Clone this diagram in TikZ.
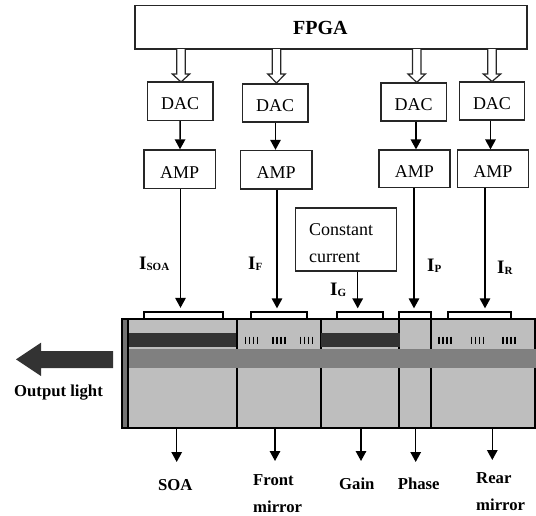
\documentclass[tikz,border=0pt]{standalone}
\usepackage{fontspec}
\setmainfont{Liberation Serif}
\usetikzlibrary{arrows.meta}
\newcommand{\Isub}[1]{I\raisebox{-1.2pt}{\fontsize{11}{11}\selectfont #1}}
\tikzset{
  x=1pt,y=-1pt,
  boxn/.style={draw=black!85,line width=1.3pt,inner sep=0pt,font=\fontsize{18}{18}\selectfont,text height=17.5pt,text depth=0pt},
  lab/.style={inner sep=0pt,anchor=base west,font=\bfseries\fontsize{16.7}{17}\selectfont},
  cur/.style={inner sep=0pt,anchor=base west,font=\bfseries\fontsize{19}{19}\selectfont},
  plain/.style={inner sep=0pt,anchor=base west,font=\fontsize{18}{18}\selectfont},
  arr/.style={draw=black,line width=1.5pt,-{Triangle[width=10.5pt,length=10pt]},shorten >=0pt},
  hollowarrow/.style={draw=black!85,line width=1.2pt,fill=white,line join=miter},
  sect/.style={draw=black,line width=2.2pt,fill=secgray,inner sep=0pt},
  pad/.style={draw=black,line width=1.8pt,fill=white,inner sep=0pt},
  tick/.style={draw=black,line width=1.5pt},
}
\definecolor{secgray}{gray}{0.745}
\definecolor{guide}{gray}{0.5}
\definecolor{active}{gray}{0.2}
\definecolor{facet}{gray}{0.45}
\newcommand{\grating}[1]{\foreach \k in {0,4,8,12}{\draw[tick] (#1+\k,336.5) -- (#1+\k,344);}}
\newcommand{\hollow}[2]{\draw[hollowarrow] (#1-4.2,49) -- (#1-4.2,74) -- (#1-8.7,74) -- (#1,#2) -- (#1+8.7,74) -- (#1+4.2,74) -- (#1+4.2,49);}
\begin{document}
\begin{tikzpicture}
\useasboundingbox (0,0) rectangle (536,515);
% top blocks
\node[draw=black!85,line width=1.3pt,minimum width=392pt,minimum height=43.5pt,inner sep=0pt] (fpga) at (331,27.2) {};
\node[inner sep=0pt,anchor=base west,font=\bfseries\fontsize{20}{20}\selectfont] (fpgat) at (293,34) {FPGA};
\node[boxn,minimum width=65.5pt,minimum height=38.5pt] (dac1) at (180.2,101.2) {DAC};
\node[boxn,minimum width=65.5pt,minimum height=38pt] (dac2) at (275.2,103) {DAC};
\node[boxn,minimum width=65.5pt,minimum height=38pt] (dac3) at (413.7,102) {DAC};
\node[boxn,minimum width=65.5pt,minimum height=38pt] (dac4) at (492,101) {DAC};
\node[boxn,minimum width=71.5pt,minimum height=38.7pt] (amp1) at (179.7,169.3) {AMP};
\node[boxn,minimum width=71.5pt,minimum height=38.5pt] (amp2) at (276.2,169.7) {AMP};
\node[boxn,minimum width=71pt,minimum height=37.7pt] (amp3) at (414.5,168.9) {AMP};
\node[boxn,minimum width=70.5pt,minimum height=37.7pt] (amp4) at (493,168.9) {AMP};
\node[draw=black!85,line width=1.3pt,minimum width=100.5pt,minimum height=63pt,inner sep=0pt] (const) at (346,239.5) {};
\node[plain] (constA) at (309,235.6) {Constant};
\node[plain] (constB) at (309,262) {current};
% hollow arrows
\hollow{181}{82}
\hollow{276.5}{83}
\hollow{416.7}{82.5}
\hollow{492}{81.5}
% device
\node[draw=black,line width=2.2pt,fill=facet,minimum width=12pt,minimum height=109pt,inner sep=0pt] (facetn) at (128,373.5) {};
\node[sect,minimum width=109pt,minimum height=109pt] (soa) at (182.5,373.5) {};
\node[sect,minimum width=84pt,minimum height=109pt] (front) at (279,373.5) {};
\node[sect,minimum width=78pt,minimum height=109pt] (gain) at (360,373.5) {};
\node[sect,minimum width=32pt,minimum height=109pt] (phase) at (415,373.5) {};
\node[sect,minimum width=104pt,minimum height=109pt] (rear) at (483,373.5) {};
% pads
\node[pad,minimum width=79.6pt,minimum height=7.5pt] (pad1) at (183.5,315.5) {};
\node[pad,minimum width=56pt,minimum height=7.5pt] (pad2) at (278.7,315.5) {};
\node[pad,minimum width=46pt,minimum height=7.5pt] (pad3) at (360.3,315.5) {};
\node[pad,minimum width=31.7pt,minimum height=7.5pt] (pad4) at (415.2,315.5) {};
\node[pad,minimum width=62.7pt,minimum height=7.5pt] (pad5) at (479.7,315.5) {};
% active layers and waveguide
\fill[active] (128.5,333) rectangle (236,347);
\fill[active] (321,333) rectangle (400,347);
\fill[guide] (128.5,349) rectangle (535.5,367.7);
\grating{245.5}\grating{273}\grating{300.5}
\grating{439}\grating{471.5}\grating{503}
% output arrow
\fill[active] (113,351) -- (41,351) -- (41,342.7) -- (16,359.4) -- (41,376) -- (41,368) -- (113,368) -- cycle;
\node[lab] (out) at (14,396.7) {Output light};
% connectors
\draw[arr] ([xshift=0pt]dac1.south) -- ([xshift=0.3pt]amp1.north);
\draw[arr] ([xshift=0.3pt]dac2.south) -- ([xshift=-0.7pt]amp2.north);
\draw[arr] ([xshift=2.3pt]dac3.south) -- ([xshift=1.5pt]amp3.north);
\draw[arr] ([xshift=-1.5pt]dac4.south) -- ([xshift=-2.5pt]amp4.north);
\draw[arr] ([xshift=0.8pt]amp1.south) -- ([xshift=-3pt,yshift=3pt]pad1.north);
\draw[arr] ([xshift=0.8pt]amp2.south) -- ([xshift=-1.7pt,yshift=2.5pt]pad2.north);
\draw[arr] ([xshift=-0.5pt]amp3.south) -- ([xshift=-1.2pt,yshift=2.5pt]pad4.north);
\draw[arr] ([xshift=-8pt]amp4.south) -- ([xshift=5.3pt,yshift=2.5pt]pad5.north);
\draw[arr] ([xshift=11.7pt]const.south) -- ([xshift=-2.6pt,yshift=2.5pt]pad3.north);
% current labels
\node[cur] (isoa) at (139,269) {\Isub{SOA}};
\node[cur] (if) at (248,269) {\Isub{F}};
\node[cur] (ig) at (330,295.7) {\Isub{G}};
\node[cur] (ip) at (427,271.7) {\Isub{P}};
\node[cur] (ir) at (497,273) {\Isub{R}};
% bottom labels
\node[lab] (lsoa) at (158,490.7) {SOA};
\node[lab] (lfronta) at (253,485) {Front};
\node[lab] (lfrontb) at (253,512.7) {mirror};
\node[lab] (lgain) at (339,489) {Gain};
\node[lab] (lphase) at (397.7,489) {Phase};
\node[lab] (lreara) at (476,483) {Rear};
\node[lab] (lrearb) at (476,510) {mirror};
\coordinate (e1) at (176.7,462);
\coordinate (e2) at (275,461);
\coordinate (e3) at (361,461);
\coordinate (e4) at (415.7,462);
\coordinate (e5) at (492.3,460);
\draw[arr] (soa.south -| e1) -- (e1);
\draw[arr] (front.south -| e2) -- (e2);
\draw[arr] (gain.south -| e3) -- (e3);
\draw[arr] (phase.south -| e4) -- (e4);
\draw[arr] (rear.south -| e5) -- (e5);
\end{tikzpicture}
\end{document}
